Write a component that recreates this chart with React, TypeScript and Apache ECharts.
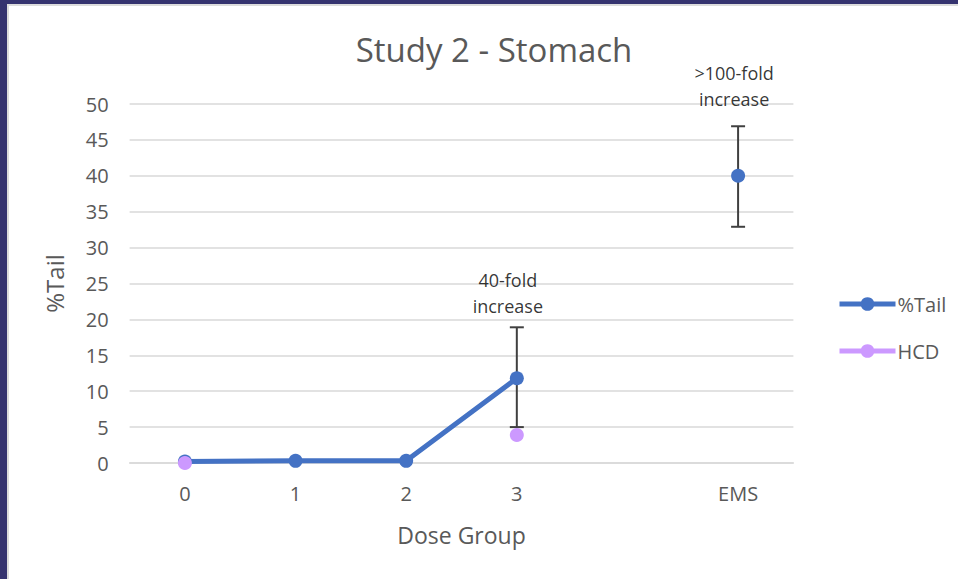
import React, { useEffect, useRef } from "react";
import * as echarts from "echarts";

const categories = ["0", "1", "2", "3", "", "EMS"];
const tailValues: (number | null)[] = [0.2, 0.3, 0.3, 11.8, null, 40];
const hcdValues: (number | null)[] = [0, null, null, 3.9, null, null];
// error bars: [category index, low, high]
const errorBars: [number, number, number][] = [
  [3, 5.0, 18.9],
  [5, 32.9, 46.9],
];
// annotations: [category index, value position, text]
const annotations: [number, number, string][] = [
  [3, 23.7, "40-fold\nincrease"],
  [5, 52.5, ">100-fold\nincrease"],
];
const yTicks = { min: 0, max: 50, interval: 5 };

const FONT = "'Open Sans', 'Noto Sans', sans-serif";
const GRAY = "#595959";

export default function App() {
  const ref = useRef<HTMLDivElement>(null);
  useEffect(() => {
    if (!ref.current) return;
    const chart = echarts.init(ref.current, null, { renderer: "svg" });
    chart.setOption({
      animation: false,
      backgroundColor: "transparent",
      textStyle: { fontFamily: FONT },
      title: {
        text: "Study 2 - Stomach",
        left: 489,
        top: 28,
        textAlign: "center",
        textStyle: { fontSize: 33, fontWeight: "normal", color: GRAY, fontFamily: FONT },
      },
      legend: {
        orient: "vertical",
        left: 832,
        top: 289,
        itemWidth: 56,
        itemHeight: 17,
        itemGap: 27,
        data: ["%Tail", "HCD"],
        lineStyle: { width: 5 },
        textStyle: { fontSize: 20, color: GRAY, fontFamily: FONT, padding: [0, 0, 0, -3] },
      },
      grid: { left: 129.6, right: 164.6, top: 104, bottom: 116 },
      xAxis: {
        type: "category",
        data: categories,
        boundaryGap: true,
        name: "Dose Group",
        nameLocation: "middle",
        nameGap: 60,
        nameTextStyle: { fontSize: 23, color: GRAY, fontFamily: FONT },
        axisLine: { show: true, lineStyle: { color: "#d9d9d9", width: 1.5 } },
        axisTick: { show: false },
        axisLabel: { fontSize: 20, color: GRAY, margin: 20, fontFamily: FONT },
      },
      yAxis: {
        type: "value",
        min: yTicks.min,
        max: yTicks.max,
        interval: yTicks.interval,
        name: "%Tail",
        nameLocation: "middle",
        nameGap: 63,
        nameTextStyle: { fontSize: 24, color: GRAY, fontFamily: FONT },
        axisLine: { show: false },
        axisTick: { show: false },
        axisLabel: { fontSize: 20, color: GRAY, margin: 21, fontFamily: FONT },
        splitLine: { lineStyle: { color: "#d9d9d9", width: 1.5 } },
      },
      series: [
        {
          type: "custom",
          name: "errors",
          z: 1,
          data: errorBars,
          encode: { x: 0, y: [1, 2] },
          renderItem: (params: any, api: any) => {
            const x = api.value(0);
            const lo = api.coord([x, api.value(1)]);
            const hi = api.coord([x, api.value(2)]);
            const hw = 7;
            const style = { stroke: "#404040", lineWidth: 2 };
            return {
              type: "group",
              children: [
                { type: "line", shape: { x1: lo[0], y1: lo[1], x2: hi[0], y2: hi[1] }, style },
                { type: "line", shape: { x1: hi[0] - hw, y1: hi[1], x2: hi[0] + hw, y2: hi[1] }, style },
                { type: "line", shape: { x1: lo[0] - hw, y1: lo[1], x2: lo[0] + hw, y2: lo[1] }, style },
              ],
            };
          },
        },
        {
          type: "line",
          name: "%Tail",
          z: 3,
          data: tailValues,
          connectNulls: false,
          symbol: "circle",
          symbolSize: 14,
          showAllSymbol: true,
          itemStyle: { color: "#4472c4" },
          lineStyle: { color: "#4472c4", width: 5 },
        },
        {
          type: "line",
          name: "HCD",
          z: 4,
          data: hcdValues,
          connectNulls: false,
          symbol: "circle",
          symbolSize: 14,
          showAllSymbol: true,
          itemStyle: { color: "#cc99ff" },
          lineStyle: { color: "#cc99ff", width: 5 },
        },
        {
          type: "scatter",
          name: "notes",
          z: 5,
          symbolSize: 0,
          clip: false,
          data: annotations.map((a) => ({
            value: [a[0], a[1]],
            label: {
              show: true,
              position: "inside",
              offset: [a[0] === 3 ? -9 : -4, 0],
              formatter: a[2],
              fontSize: 18,
              lineHeight: 26,
              color: "#000000",
              fontFamily: FONT,
            },
          })),
        },
      ],
    });
    return () => chart.dispose();
  }, []);

  return (
    <div
      style={{
        position: "fixed",
        left: 0,
        top: 0,
        width: 958,
        height: 579,
        background: "#35336f",
        overflow: "hidden",
      }}
    >
      <div
        style={{
          position: "absolute",
          left: 7,
          top: 4,
          right: 0,
          bottom: 0,
          background: "#ffffff",
          borderTop: "2px solid #dcdcdc",
          borderLeft: "2px solid #dcdcdc",
        }}
      />
      <div ref={ref} style={{ position: "absolute", left: 0, top: 0, width: 958, height: 579 }} />
    </div>
  );
}
